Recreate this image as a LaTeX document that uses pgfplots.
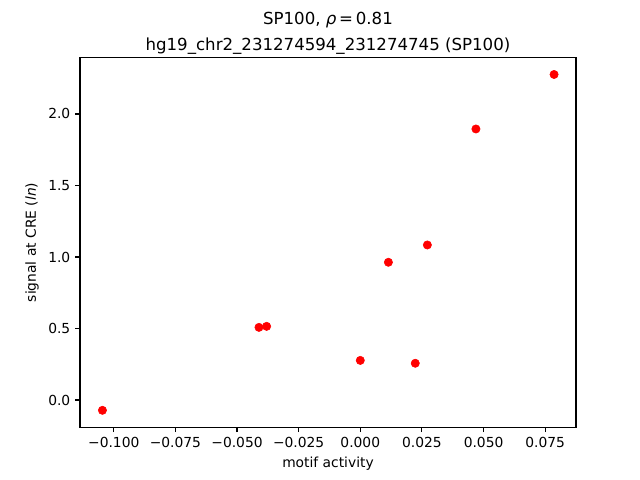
\documentclass[border=0pt]{standalone}
\usepackage{fontspec}
\setmainfont{DejaVu Sans}
\usepackage{pgfplots}
\pgfplotsset{compat=1.18}
\begin{document}
\begin{tikzpicture}
\path[use as bounding box] (0,0) rectangle (6.4in,4.8in);
\begin{axis}[
  at={(0.8in,0.528in)}, anchor=south west,
  scale only axis, width=4.96in, height=3.696in,
  xmin=-0.1137, xmax=0.0875, ymin=-0.190, ymax=2.394,
  xtick={-0.1,-0.075,-0.05,-0.025,0,0.025,0.05,0.075},
  xticklabels={−0.100,−0.075,−0.050,−0.025,0.000,0.025,0.050,0.075},
  ytick={0,0.5,1,1.5,2},
  yticklabels={0.0,0.5,1.0,1.5,2.0},
  tick align=outside, major tick length=3.5pt,
  tick style={black, line width=0.8pt},
  axis line style={line width=0.8pt},
  xtick pos=lower, ytick pos=left,
  tick label style={font=\fontsize{10}{12}\selectfont},
  label style={font=\fontsize{10}{12}\selectfont},
  xlabel={motif activity},
  ylabel={signal at CRE ({\itshape ln})},
  title={SP100, {\itshape ρ}\,=\,0.81\\hg19\_chr2\_231274594\_231274745 (SP100)},
  title style={align=center, font=\fontsize{12}{18.7}\selectfont,
    anchor=south, at={(0.5,1)}, yshift=-7pt},
]
  \addplot[only marks, mark=*, mark size=3pt, color=red,
    mark options={draw=red, fill=red}] coordinates {
    (-0.1046,-0.072)
    (-0.0411,0.508)
    (-0.0380,0.515)
    (0.0000,0.277)
    (0.0114,0.963)
    (0.0223,0.257)
    (0.0272,1.084)
    (0.0469,1.895)
    (0.0786,2.276)
  };
\end{axis}
\end{tikzpicture}
\end{document}
